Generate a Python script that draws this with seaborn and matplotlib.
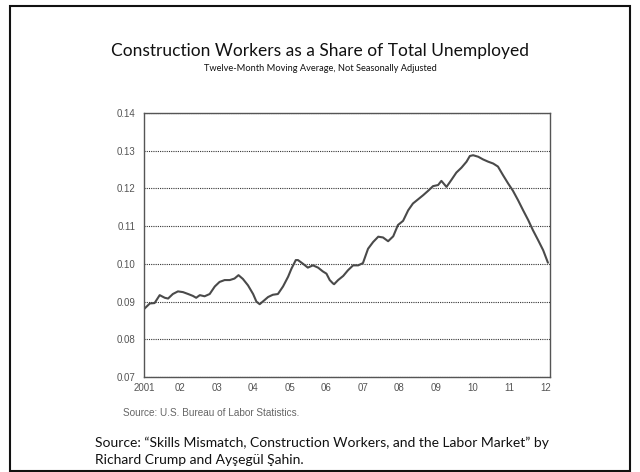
import matplotlib
matplotlib.use("Agg")
import matplotlib.pyplot as plt
import matplotlib.patches as mpatches
import seaborn as sns
import pandas as pd

years = [2001.00, 2001.16, 2001.29, 2001.43, 2001.57, 2001.66, 2001.79, 2001.93,
         2002.07, 2002.21, 2002.34, 2002.43, 2002.53, 2002.66, 2002.80, 2002.94,
         2003.07, 2003.21, 2003.35, 2003.48, 2003.59, 2003.71, 2003.85, 2003.99,
         2004.08, 2004.17, 2004.28, 2004.40, 2004.53, 2004.67, 2004.81, 2004.95,
         2005.04, 2005.16, 2005.22, 2005.36, 2005.49, 2005.63, 2005.77, 2005.90,
         2006.00, 2006.09, 2006.18, 2006.21, 2006.32, 2006.46, 2006.59, 2006.73,
         2006.87, 2007.00, 2007.14, 2007.28, 2007.42, 2007.55, 2007.69, 2007.83,
         2007.96, 2008.10, 2008.24, 2008.37, 2008.51, 2008.65, 2008.79, 2008.92,
         2009.06, 2009.15, 2009.29, 2009.42, 2009.56, 2009.70, 2009.84, 2009.93,
         2010.02, 2010.16, 2010.29, 2010.43, 2010.57, 2010.70, 2010.84, 2010.98,
         2011.11, 2011.25, 2011.39, 2011.53, 2011.66, 2011.80, 2011.94, 2012.07]
share = [0.0880, 0.0895, 0.0896, 0.0917, 0.0910, 0.0908, 0.0920, 0.0927,
         0.0925, 0.0920, 0.0915, 0.0910, 0.0917, 0.0914, 0.0920, 0.0940,
         0.0952, 0.0957, 0.0957, 0.0961, 0.0970, 0.0960, 0.0943, 0.0920,
         0.0900, 0.0893, 0.0902, 0.0912, 0.0918, 0.0920, 0.0940, 0.0966,
         0.0987, 0.1010, 0.1010, 0.1000, 0.0990, 0.0996, 0.0990, 0.0980,
         0.0974, 0.0957, 0.0948, 0.0946, 0.0957, 0.0968, 0.0983, 0.0996,
         0.0996, 0.1002, 0.1040, 0.1058, 0.1072, 0.1070, 0.1060, 0.1073,
         0.1103, 0.1114, 0.1142, 0.1160, 0.1171, 0.1182, 0.1194, 0.1206,
         0.1209, 0.1220, 0.1204, 0.1222, 0.1242, 0.1255, 0.1271, 0.1286,
         0.1288, 0.1284, 0.1277, 0.1271, 0.1266, 0.1258, 0.1235, 0.1213,
         0.1194, 0.1169, 0.1142, 0.1116, 0.1089, 0.1063, 0.1036, 0.1003]

x_ticks = list(range(2001, 2013))
x_tick_labels = ["2001", "02", "03", "04", "05", "06", "07", "08", "09", "10", "11", "12"]
y_ticks = [0.07, 0.08, 0.09, 0.10, 0.11, 0.12, 0.13, 0.14]
y_tick_labels = ["0.07", "0.08", "0.09", "0.10", "0.11", "0.12", "0.13", "0.14"]

title = "Construction Workers as a Share of Total Unemployed"
subtitle = "Twelve-Month Moving Average, Not Seasonally Adjusted"
source_bls = "Source: U.S. Bureau of Labor Statistics."
source_paper = ["Source: \u201cSkills Mismatch, Construction Workers, and the Labor Market\u201d by",
                "Richard Crump and Ay\u015feg\u00fcl \u015eahin."]

sns.set_style("white")
plt.rcParams["font.family"] = ["Lato", "DejaVu Sans"]

df = pd.DataFrame({"year": years, "share": share})

fig = plt.figure(figsize=(6.4, 4.72), dpi=100)
ax = fig.add_axes([0.225, 0.2013, 0.634, 0.5593])

sns.lineplot(data=df, x="year", y="share", ax=ax, color="#4a4a4a", linewidth=1.5)

ax.set_xlim(2001, 2012.12)
ax.set_ylim(0.07, 0.14)
ax.set_xticks(x_ticks)
ax.set_xticklabels(x_tick_labels, family=["Liberation Sans"], fontsize=7, color="#555555")
ax.set_yticks(y_ticks)
ax.set_yticklabels(y_tick_labels, family=["Liberation Sans"], fontsize=7, color="#555555")
ax.set_xlabel("")
ax.set_ylabel("")
ax.tick_params(axis="x", direction="in", length=3, width=0.8, color="#444444", pad=4, top=False)
ax.tick_params(axis="y", length=0, pad=6)
ax.grid(axis="y", linestyle=(0, (1, 1)), color="#333333", linewidth=0.8)
ax.grid(axis="x", visible=False)
for side, sp in ax.spines.items():
    sp.set_visible(True)
    sp.set_color("#555555")
    sp.set_linewidth(1.0)
    if side != "right":
        sp.set_linestyle((0, (1, 1)))

fig.text(0.5, 0.892, title, ha="center", va="center", fontsize=12.5, color="#111111")
fig.text(0.5, 0.855, subtitle, ha="center", va="center", fontsize=6.7, color="#111111")
fig.text(0.192, 0.125, source_bls, ha="left", va="center", fontsize=7.2,
         color="#666666", family=["Liberation Sans"])
fig.text(0.148, 0.061, source_paper[0], ha="left", va="center", fontsize=10, color="#111111")
fig.text(0.148, 0.025, source_paper[1], ha="left", va="center", fontsize=10, color="#111111")

frame = mpatches.Rectangle((10 / 640, 1 / 472), 620 / 640, 465 / 472, transform=fig.transFigure,
                           fill=False, edgecolor="#111111", linewidth=1.5)
fig.patches.append(frame)

fig.savefig("out.png", dpi=100)
